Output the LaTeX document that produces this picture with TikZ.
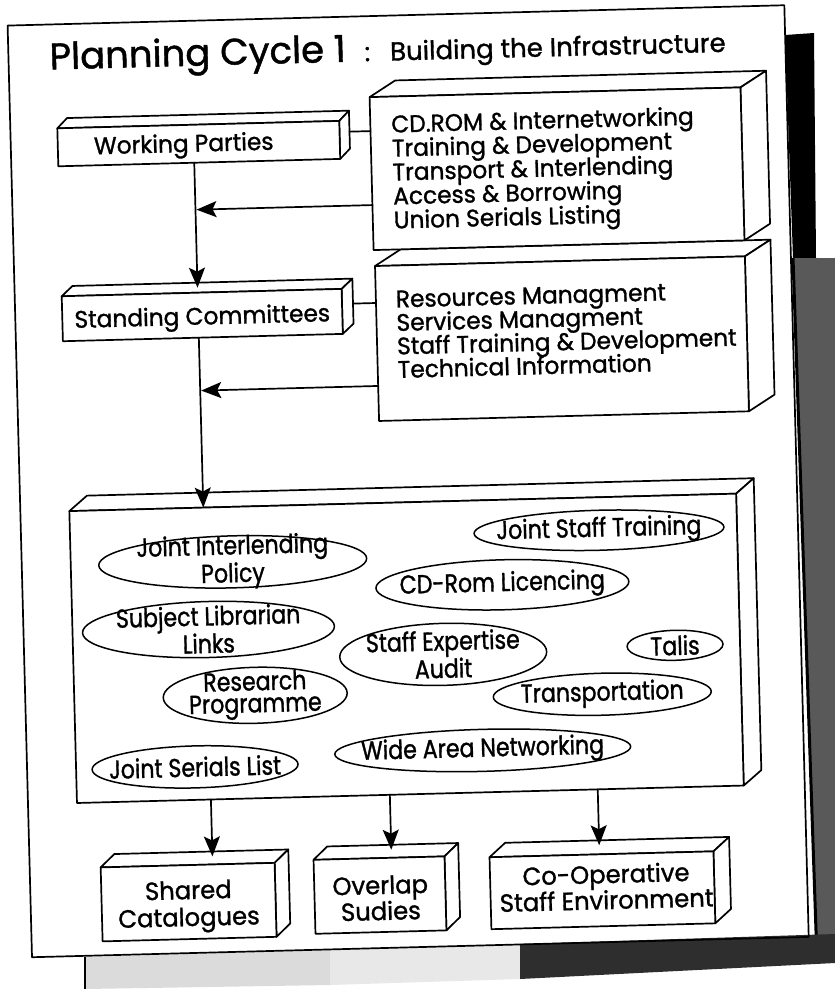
\documentclass[tikz,border=0pt]{standalone}
\usepackage{fontspec}
\setmainfont{Poppins}[FakeBold=1.2]
\newfontfamily\boxfont{Poppins}[FakeStretch=0.97,FakeBold=1.2]
\newfontfamily\ovalfont{Poppins}[FakeStretch=0.85,FakeBold=1.2]
\usetikzlibrary{arrows.meta,shapes.geometric}

% cuboid: #1 name, #2 left, #3 top, #4 right, #5 bottom, #6/#7 depth offset
\newcommand\solidbox[7]{%
  \draw[face] (#2,#3) -- ++(#6,#7) -- ({#4+#6},{#3+#7}) -- (#4,#3) -- cycle;
  \draw[face] (#4,#3) -- ({#4+#6},{#3+#7}) -- ({#4+#6},{#5+#7}) -- (#4,#5) -- cycle;
  \node[frontface, minimum width={#4-#2}, minimum height={#5-#3}] (#1) at ({(#2+#4)/2},{(#3+#5)/2}) {};
}

\tikzset{
  ink/.style={draw=black, line width=1.7pt, line join=round, line cap=round},
  face/.style={ink, fill=white},
  frontface/.style={face, rectangle, inner sep=0pt, outer sep=0pt},
  oval/.style={draw=black, line width=1.5pt, ellipse, inner sep=0pt, outer sep=0pt},
  flow/.style={ink, -{Stealth[length=20pt,width=16pt,inset=4pt]}},
  link/.style={ink},
  txt/.style={inner sep=0pt, outer sep=0pt, text height=17pt, text depth=5pt,
              font=\boxfont\fontsize{24}{24}\selectfont},
  bigtxt/.style={inner sep=0pt, outer sep=0pt, text height=18pt, text depth=6pt,
              font=\boxfont\fontsize{25}{25}\selectfont},
  ovaltxt/.style={inner sep=0pt, outer sep=0pt, align=center, font=\ovalfont\fontsize{26}{22}\selectfont},
}

\begin{document}
\begin{tikzpicture}[x=1pt,y=-1pt]
\useasboundingbox (0,0) rectangle (835,989);

% shadow along the right edge of the sheet
\fill[black] (785,35) -- (814,33) -- (816,258) -- (793,258) -- cycle;
\fill[black!65] (793,258) -- (835,258) -- (835,958) -- (817,960) -- cycle;
\draw[black, line width=3pt] (793,258) -- (817,960);
% shadow strip below the sheet
\fill[black!14] (85,957) -- (330,950) -- (330,985) -- (85,989) -- cycle;
\fill[black!9] (330,950) -- (520,944) -- (520,979) -- (330,985) -- cycle;
\fill[black!82] (520,944) -- (835,934) -- (835,963) -- (520,979) -- cycle;
\draw[black, line width=1.2pt] (85,957) -- (85,989);

\begin{scope}[rotate around={1.5:(417,494)}, transform shape]
  % sheet border
  \draw[ink] (20,15) -- (797,15) -- (797,947) -- (20,947) -- cycle;

  % heading
  \node[anchor=base west, inner sep=0pt, font=\fontsize{37}{37}\selectfont] (title) at (61,60) {Planning Cycle 1};
  \node[anchor=base west, inner sep=0pt, font=\fontsize{26}{26}\selectfont] (subtitle) at (376,60) {:\hspace{20pt}Building the Infrastructure};

  % upper boxes
  \solidbox{res}{381}{265}{751}{420}{26}{-16}
  \solidbox{cd}{380}{96}{751}{249}{26}{-16}
  \solidbox{wp}{67}{119}{349}{157}{10}{-10}
  \solidbox{sc}{67}{287}{347}{332}{11}{-10}

  \node[txt, anchor=base] (wpText) at (193,146) {Working Parties};
  \node[txt, anchor=base] (scText) at (207,319) {Standing Committees};

  \node[txt, anchor=base west] (cd1) at (401,132) {CD.ROM \& Internetworking};
  \node[txt, anchor=base west] (cd2) at (401,156) {Training \& Development};
  \node[txt, anchor=base west] (cd3) at (401,180) {Transport \& Interlending};
  \node[txt, anchor=base west] (cd4) at (401,204) {Access \& Borrowing};
  \node[txt, anchor=base west] (cd5) at (401,228) {Union Serials Listing};

  \node[txt, anchor=base west] (res1) at (401,307) {Resources Managment};
  \node[txt, anchor=base west] (res2) at (401,330.5) {Services Managment};
  \node[txt, anchor=base west] (res3) at (401,354) {Staff Training \& Development};
  \node[txt, anchor=base west] (res4) at (401,377.5) {Technical Information};

  % initiatives
  \solidbox{hub}{69}{502}{736}{794}{18}{-15}

  \node[oval, minimum width=268pt, minimum height=52pt] (jip) at (231,557) {};
  \node[oval, minimum width=250pt, minimum height=40pt] (jst) at (598,535) {};
  \node[oval, minimum width=253pt, minimum height=50pt] (cdl) at (500,587) {};
  \node[oval, minimum width=252pt, minimum height=56pt] (sll) at (205,624) {};
  \node[oval, minimum width=207pt, minimum height=62pt] (sea) at (439,655) {};
  \node[oval, minimum width=96pt, minimum height=30pt] (talis) at (671,652) {};
  \node[oval, minimum width=184pt, minimum height=56pt] (rp) at (250,691) {};
  \node[oval, minimum width=218pt, minimum height=42pt] (tr) at (597,699) {};
  \node[oval, minimum width=296pt, minimum height=42pt] (wan) at (476,752) {};
  \node[oval, minimum width=206pt, minimum height=42pt] (jsl) at (188,761) {};

  \node[ovaltxt] at (jip) {Joint Interlending\\Policy};
  \node[ovaltxt] at (jst) {Joint Staff Training};
  \node[ovaltxt] at (cdl) {CD-Rom Licencing};
  \node[ovaltxt] at (sll) {Subject Librarian\\Links};
  \node[ovaltxt] at (sea) {Staff Expertise\\Audit};
  \node[ovaltxt] at (talis) {Talis};
  \node[ovaltxt] at (rp) {Research\\Programme};
  \node[ovaltxt] at (tr) {Transportation};
  \node[ovaltxt] at (wan) {Wide Area Networking};
  \node[ovaltxt] at (jsl) {Joint Serials List};

  % outcomes
  \solidbox{shared}{91}{859}{265}{933}{14}{-13}
  \solidbox{overlap}{304}{857}{435}{931}{14}{-13}
  \solidbox{coop}{480}{859}{704}{931}{16}{-14}

  \node[bigtxt, anchor=base] (shared1) at (178,893) {Shared};
  \node[bigtxt, anchor=base] (shared2) at (178,920) {Catalogues};
  \node[bigtxt, anchor=base] (overlap1) at (370,893) {Overlap};
  \node[bigtxt, anchor=base] (overlap2) at (370,919) {Sudies};
  \node[bigtxt, anchor=base] (coop1) at (596,888) {Co-Operative};
  \node[bigtxt, anchor=base] (coop2) at (596,914) {Staff Environment};

  % attachment points
  \coordinate (wpSide) at (359,130);
  \coordinate (cdLink) at (380,130);
  \coordinate (scSide) at (358,302);
  \coordinate (resLink) at (381,302);
  \coordinate (wpOut) at (203,157);
  \coordinate (scIn) at (203,282);
  \coordinate (scOut) at (203,332);
  \coordinate (cdOut) at (380,204);
  \coordinate (spineA) at (204,204);
  \coordinate (resOut) at (381,385);
  \coordinate (spineB) at (204,385);
  \coordinate (hubIn) at (203,502);
  \coordinate (hubOutA) at (203,794);
  \coordinate (hubOutB) at (382,794);
  \coordinate (hubOutC) at (590,794);
  \coordinate (sharedIn) at (203,851);
  \coordinate (overlapIn) at (382,849);
  \coordinate (coopIn) at (590,850);

  % connectors
  \draw[link] (wpSide) -- (cdLink);
  \draw[link] (scSide) -- (resLink);
  \draw[flow] (wpOut) -- (scIn);
  \draw[flow] (cdOut) -- (spineA);
  \draw[flow] (scOut) -- (hubIn);
  \draw[flow] (resOut) -- (spineB);
  \draw[flow] (hubOutA) -- (sharedIn);
  \draw[flow] (hubOutB) -- (overlapIn);
  \draw[flow] (hubOutC) -- (coopIn);
\end{scope}
\end{tikzpicture}
\end{document}
